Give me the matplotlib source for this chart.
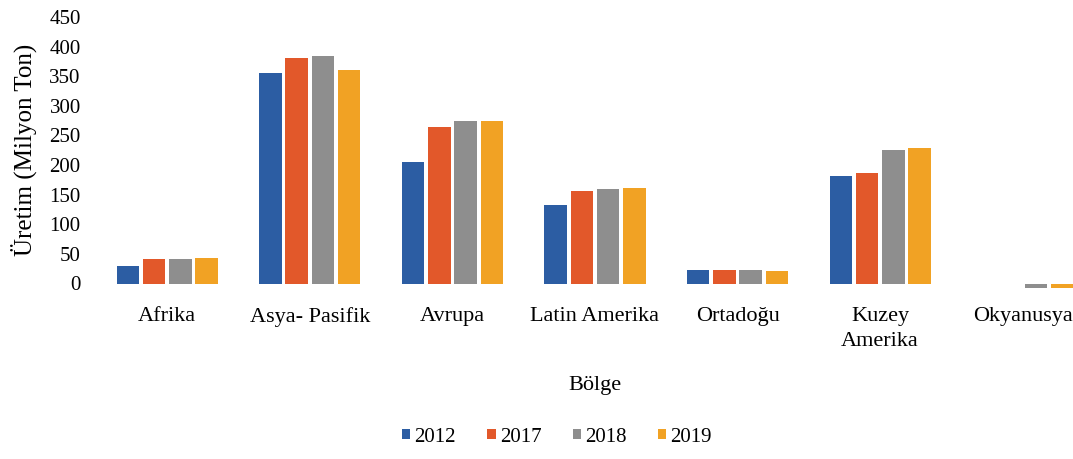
import numpy as np
import matplotlib
matplotlib.use("Agg")
import matplotlib.pyplot as plt

plt.rcParams["font.family"] = ["Liberation Serif", "DejaVu Serif"]

regions = ["Afrika", "Asya- Pasifik", "Avrupa", "Latin Amerika", "Ortadoğu",
           "Kuzey\nAmerika", "Okyanusya"]
years = ["2012", "2017", "2018", "2019"]
v2012 = [30, 356, 206, 132, 23, 181, 0]
v2017 = [41, 380, 265, 157, 23, 187, 0]
v2018 = [41, 384, 275, 159, 22, 226, -7]
v2019 = [43, 361, 275, 162, 21, 229, -7]
yticks = [0, 50, 100, 150, 200, 250, 300, 350, 400, 450]

COLORS = ["#2C5DA3", "#E2582A", "#8E8E8E", "#F1A224"]

fig = plt.figure(figsize=(10.73, 4.59), dpi=100)
ax = fig.add_axes([96 / 1073, 1 - 283.5 / 459, 998 / 1073, (283.5 - 17) / 459])

x = np.arange(len(regions))
pitch, width = 0.184, 0.158
for i, (vals, yr) in enumerate(zip([v2012, v2017, v2018, v2019], years)):
    ax.bar(x + (i - 1.5) * pitch, vals, width, color=COLORS[i], label=yr,
           clip_on=False)

ax.set_xlim(-0.5, len(regions) - 0.5)
ax.set_ylim(0, 450)
ax.set_yticks(yticks)
ax.set_xticks(x)
ax.set_xticklabels(regions, fontsize=16, linespacing=1.45)
ax.tick_params(axis="y", labelsize=15, length=0, pad=11)
ax.tick_params(axis="x", length=0, pad=17)
for s in ax.spines.values():
    s.set_visible(False)

ax.set_ylabel("Üretim (Milyon Ton)", fontsize=18, labelpad=9)
ax.set_xlabel("Bölge", fontsize=16, labelpad=18)

fig.legend(loc="center", bbox_to_anchor=(557 / 1073, 1 - 437 / 459), ncol=4,
           frameon=False, fontsize=15, handlelength=0.4, handleheight=0.4,
           handletextpad=0.2, columnspacing=1.5)

fig.savefig("out.png", dpi=100)
